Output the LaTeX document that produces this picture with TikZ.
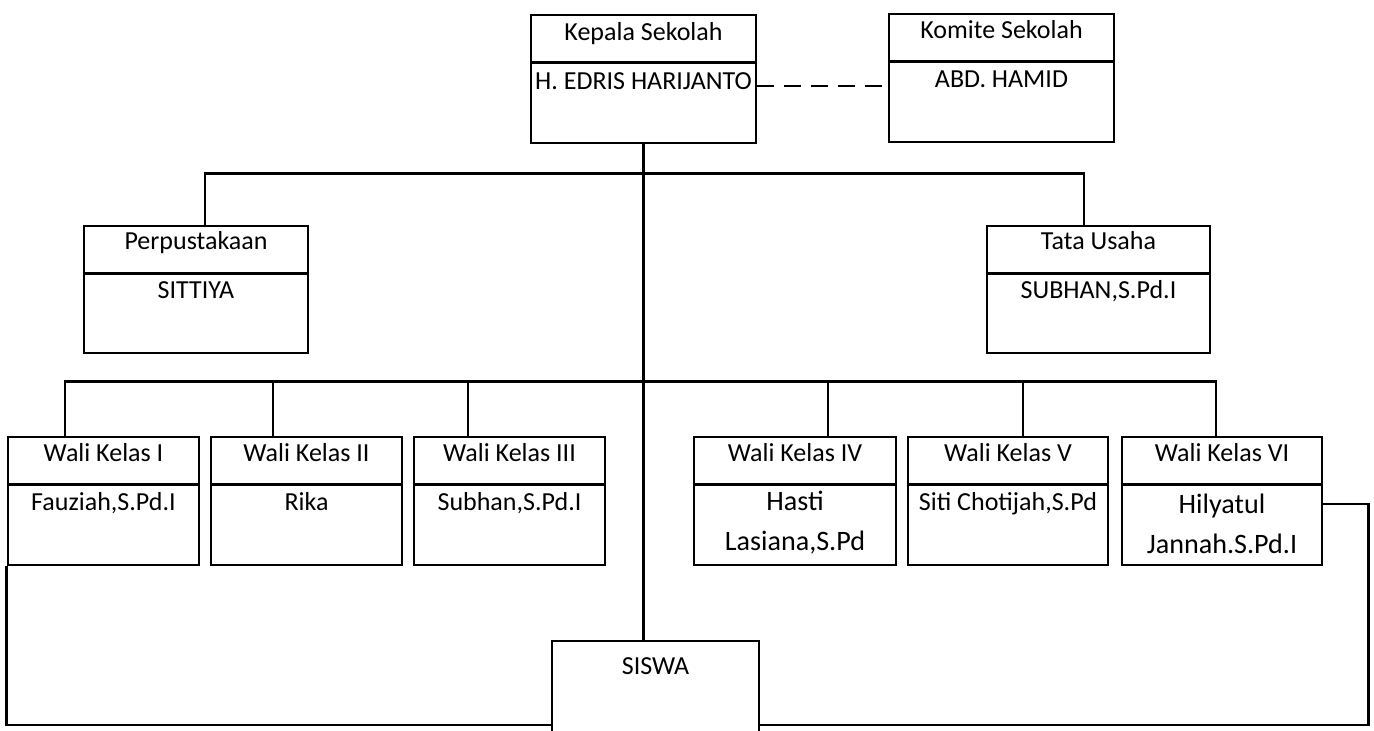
\documentclass[tikz,border=0pt]{standalone}
\usepackage{fontspec}
\setmainfont{Carlito}
\usepackage{tikz}
\tikzstyle{unit} = [rectangle, 
minimum height=2.56cm, 
inner sep=0pt,
draw=black, 
line width=1.5pt]
\tikzstyle{narrow} = [unit, minimum width=3.82cm]
\tikzstyle{wide} = [unit, minimum width=4cm]
\tikzstyle{head} = [font=\fontsize{14.8}{17}\selectfont, 
anchor=base, 
inner sep=0pt]
\tikzstyle{person} = [font=\fontsize{14.8}{17}\selectfont, 
anchor=base, 
inner sep=0pt, 
align=center]
\tikzstyle{bigperson} = [person, font=\fontsize{16}{22.8}\selectfont]
\tikzstyle{line} = [line width=1.5pt]
\tikzstyle{dashline} = [line width=1.5pt, dash pattern=on 0.34cm off 0.2cm]

\begin{document}
\begin{tikzpicture}
\useasboundingbox (0,0) rectangle (27.48,14.62);

\node (kepala) [unit, minimum width=4.5cm] at (12.87,13.04) {};
\node (komite) [unit, minimum width=4.5cm] at (20.03,13.06) {};
\node (perpus) [unit, minimum width=4.48cm, minimum height=2.54cm] at (3.92,8.83) {};
\node (tata) [unit, minimum width=4.46cm, minimum height=2.54cm] at (21.97,8.83) {};

\node (wali1) [narrow] at (2.07,4.6) {};
\node (wali2) [narrow] at (6.13,4.6) {};
\node (wali3) [narrow] at (10.19,4.6) {};
\node (wali4) [unit, minimum width=4.04cm] at (15.9,4.6) {};
\node (wali5) [wide] at (20.16,4.6) {};
\node (wali6) [wide] at (24.44,4.6) {};

\node (siswa) [unit, minimum width=4.14cm, minimum height=2.2cm] at (13.11,0.7) {};

% garis pemisah judul
\foreach \b in {kepala,komite,perpus,tata,wali1,wali2,wali3,wali4,wali5,wali6}
  \draw [line] ([yshift=-0.98cm]\b.north west) -- ([yshift=-0.98cm]\b.north east);

\node (kepalaT) [head] at ([yshift=-0.53cm]kepala.north) {Kepala Sekolah};
\node (kepalaN) [person] at ([yshift=-1.52cm]kepala.north) {H. EDRIS HARIJANTO};
\node (komiteT) [head] at ([yshift=-0.52cm]komite.north) {Komite Sekolah};
\node (komiteN) [person] at ([yshift=-1.5cm]komite.north) {ABD. HAMID};
\node (perpusT) [head] at ([yshift=-0.5cm]perpus.north) {Perpustakaan};
\node (perpusN) [person] at ([yshift=-1.48cm]perpus.north) {SITTIYA};
\node (tataT) [head] at ([yshift=-0.5cm]tata.north) {Tata Usaha};
\node (tataN) [person] at ([yshift=-1.48cm]tata.north) {SUBHAN,S.Pd.I};

\node (wali1T) [head] at ([yshift=-0.52cm]wali1.north) {Wali Kelas I};
\node (wali1N) [person] at ([yshift=-1.5cm]wali1.north) {Fauziah,S.Pd.I};
\node (wali2T) [head] at ([yshift=-0.52cm]wali2.north) {Wali Kelas II};
\node (wali2N) [person] at ([yshift=-1.5cm]wali2.north) {Rika};
\node (wali3T) [head] at ([yshift=-0.52cm]wali3.north) {Wali Kelas III};
\node (wali3N) [person] at ([yshift=-1.5cm]wali3.north) {Subhan,S.Pd.I};
\node (wali4T) [head] at ([yshift=-0.52cm]wali4.north) {Wali Kelas IV};
\node (wali4N) [bigperson] at ([yshift=-2.3cm]wali4.north) {Hasti\\Lasiana,S.Pd};
\node (wali5T) [head] at ([yshift=-0.52cm]wali5.north) {Wali Kelas V};
\node (wali5N) [person] at ([yshift=-1.5cm]wali5.north) {Siti Chotijah,S.Pd};
\node (wali6T) [head] at ([yshift=-0.52cm]wali6.north) {Wali Kelas VI};
\node (wali6N) [bigperson] at ([yshift=-2.36cm]wali6.north) {Hilyatul\\Jannah.S.Pd.I};

\node (siswaT) [head] at ([yshift=-0.7cm]siswa.north) {SISWA};

\draw [line] (kepala.south) -- (kepala.south |- siswa.north);
\draw [dashline] ([yshift=-0.14cm]kepala.east) -- ([yshift=-0.14cm]kepala.east -| komite.west);

\draw [line] ([xshift=0.18cm]perpus.north) -- ++(0,1.02) -| ([xshift=-0.29cm]tata.north);

\draw [line] ([xshift=-0.77cm]wali1.north) -- ++(0,1.08) -| ([xshift=-0.12cm]wali6.north);
\draw [line] ([xshift=-0.67cm]wali2.north) -- ++(0,1.08);
\draw [line] ([xshift=-0.83cm]wali3.north) -- ++(0,1.08);
\draw [line] ([xshift=0.66cm]wali4.north) -- ++(0,1.08);
\draw [line] ([xshift=0.3cm]wali5.north) -- ++(0,1.08);

\coordinate (loopbase) at (0,0.12);
\draw [line] (wali1.south west) -- (wali1.south west |- loopbase) -- (siswa.west |- loopbase);
\draw [line] ([yshift=-0.06cm]wali6.east) -- ++(0.9,0) |- (siswa.east |- loopbase);

\end{tikzpicture}
\end{document}
